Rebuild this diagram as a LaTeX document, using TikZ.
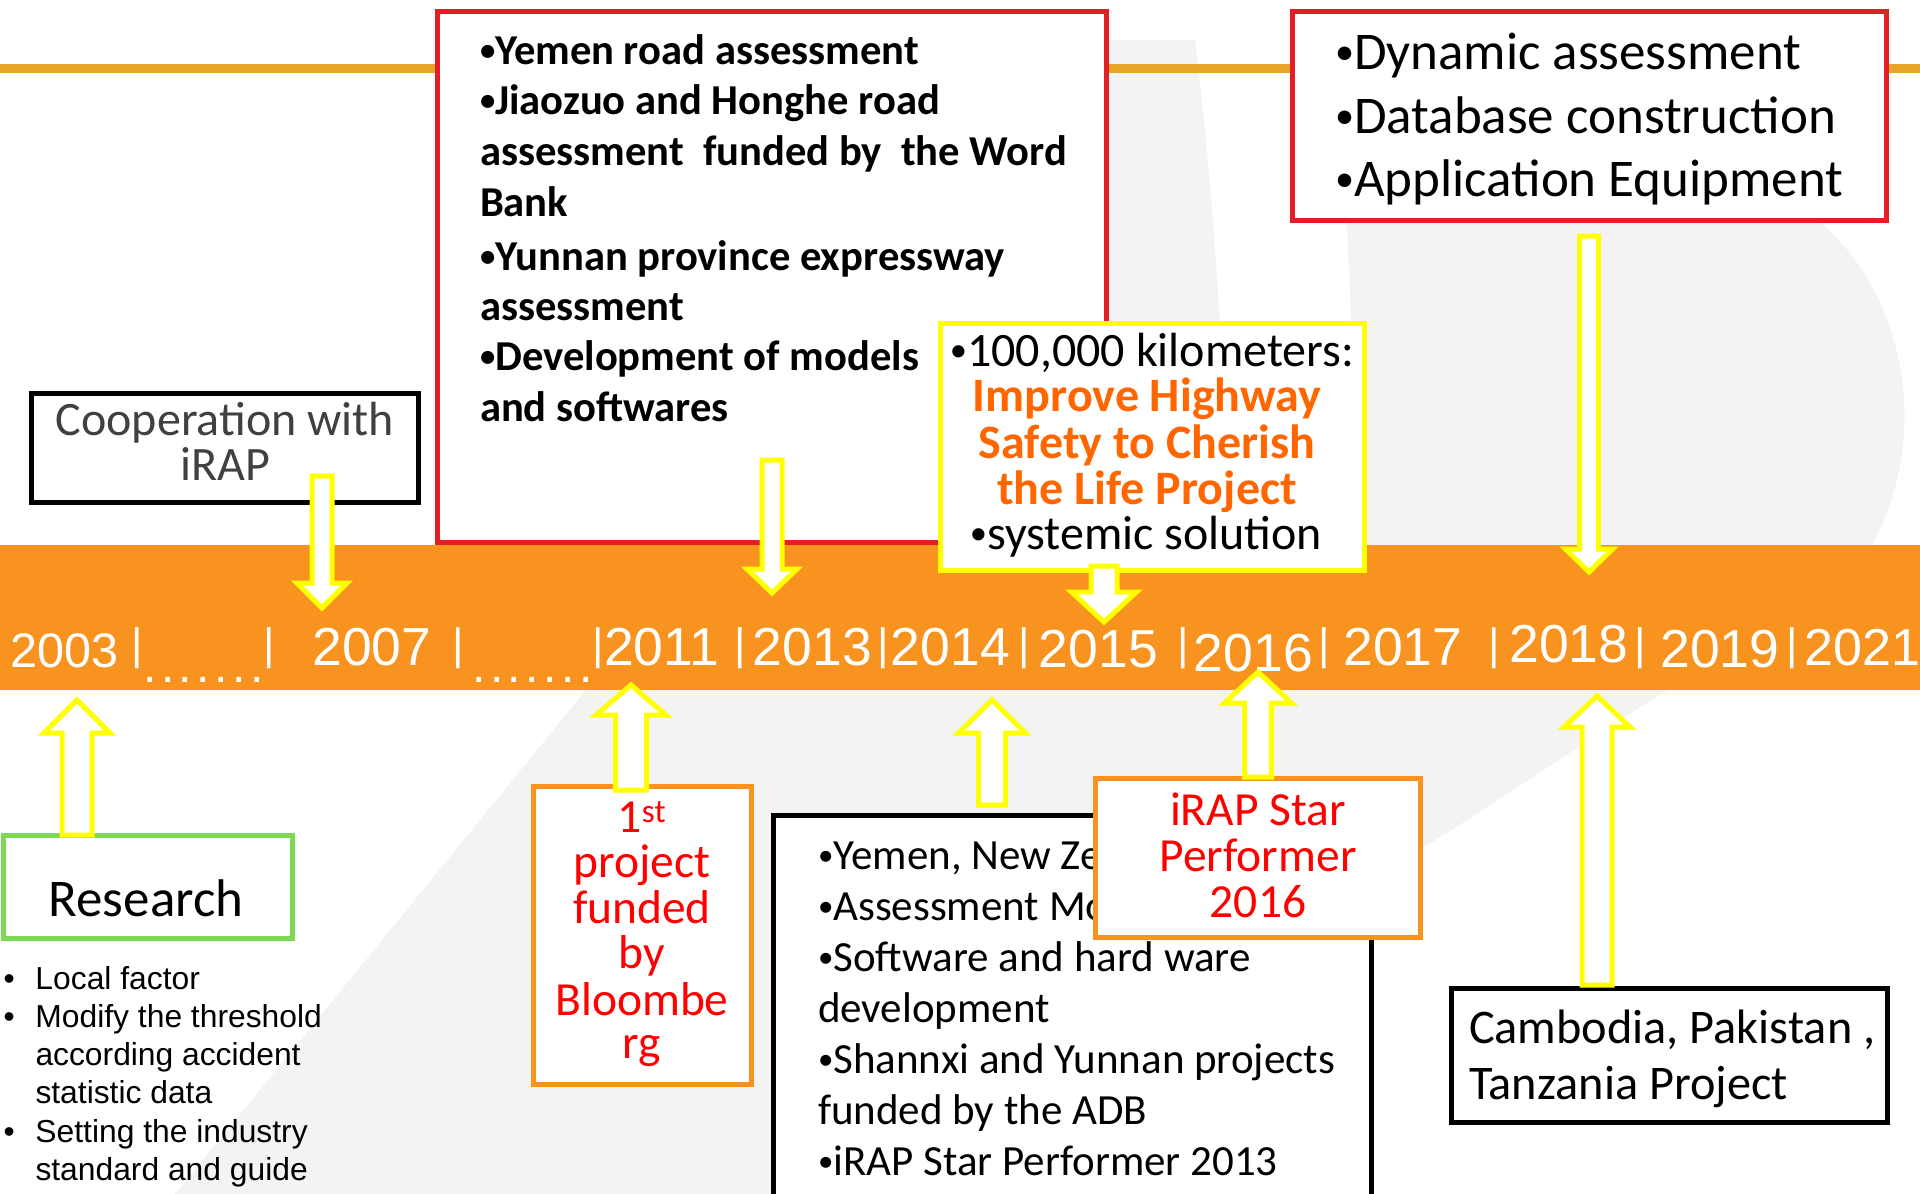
\documentclass[tikz,border=0pt]{standalone}
\usepackage{fontspec}
\usepackage{graphicx}
\setmainfont{Carlito}
\newfontfamily\arialfont{Liberation Sans}
\usetikzlibrary{calc}
\definecolor{bandorange}{HTML}{F7931E}
\definecolor{goldline}{HTML}{E6A528}
\definecolor{boxred}{HTML}{E31E24}
\definecolor{txtred}{HTML}{FF0000}
\definecolor{txtorange}{HTML}{FF6600}
\definecolor{boxgreen}{HTML}{7ED957}
\definecolor{yel}{HTML}{FFFF00}
\definecolor{bggray}{HTML}{F3F3F3}
\definecolor{coopgray}{HTML}{404040}
\newcommand{\fsz}[2]{\fontsize{#1}{#2}\selectfont}
\newcommand{\bul}{\raisebox{0.09em}{\scalebox{0.72}{•}}}
\newcommand{\yrat}[3]{\rlap{\kern#1pt\raisebox{#2pt}{#3}}}
\newcommand{\sepbar}{\fsz{44}{50}|}
\newcommand{\sevendots}{\fsz{48}{48}.\kern4.5pt.\kern4.5pt.\kern4.5pt.\kern4.5pt.\kern4.5pt.\kern4.5pt.}
\newcommand{\blockarrow}[5]{%
  \draw[yarrow] ($(#1)+(-#3,0)$) -- ($(#2)+(-#3,#5)$) -- ($(#2)+(-#4,#5)$) -- (#2)
     -- ($(#2)+(#4,#5)$) -- ($(#2)+(#3,#5)$) -- ($(#1)+(#3,0)$) -- cycle;}
\begin{document}
\begin{tikzpicture}[x=1pt,y=-1pt,
  yarrow/.style={draw=yel, fill=white, line width=5pt, line join=miter},
  boxw/.style={rectangle, inner sep=0pt, outer sep=0pt, fill=white},
  redbox/.style={boxw, draw=boxred, line width=5pt},
  blackbox/.style={boxw, draw=black, line width=5pt},
  yelbox/.style={boxw, draw=yel, line width=5pt},
  greenbox/.style={boxw, draw=boxgreen, line width=5pt},
  orbox/.style={boxw, draw=bandorange, line width=5pt},
  txtw/.style={inner sep=0pt, outer sep=0pt, anchor=base west},
  txtc/.style={inner sep=0pt, outer sep=0pt, anchor=base},
  rowtxt/.style={txtw, text=white, font=\arialfont\fsz{53.5}{56}},
  rbtxt/.style={txtw, font=\bfseries\fsz{42.6}{50}},
  ytxt/.style={txtc, font=\fsz{48}{48}},
  yotxt/.style={txtc, text=txtorange, font=\bfseries\fsz{48}{48}},
  r2txt/.style={txtw, font=\fsz{53}{60}},
  cooptxt/.style={txtc, text=coopgray, font=\fsz{48}{48}},
  listtxt/.style={txtw, font=\arialfont\fsz{31.8}{38}},
  redctxt/.style={txtc, text=txtred, font=\fsz{47.5}{47}},
  bbtxt/.style={txtw, font=\fsz{43}{51}},
  cambtxt/.style={txtw, font=\fsz{48.3}{56}}
]
\useasboundingbox (0,0) rectangle (1920,1194);
\clip (0,0) rectangle (1920,1194);
\fill[white] (0,0) rectangle (1920,1194);

% faint watermark
\fill[bggray] (1109,40) -- (1195,40) .. controls (1215,200) and (1225,400) .. (1232,545) -- (1109,545) -- cycle;
\fill[bggray] (1346,200) -- (1790,200) .. controls (1905,270) and (1935,430) .. (1872,545) -- (1361,545) .. controls (1355,400) and (1350,300) .. (1346,200) -- cycle;
\fill[bggray] (586,690) -- (1667,690) .. controls (1580,745) and (1500,800) .. (1424,847) -- (890,1194) -- (175,1194) -- cycle;

% top line and band
\draw[goldline, line width=9pt] (0,68) -- (1920,68);
\node[fill=bandorange, inner sep=0pt, outer sep=0pt, minimum width=1920pt, minimum height=145pt, anchor=north west] (band) at (0,545) {};

% year row (one line of text)
\node[rowtxt] (years) at (0,665) {%
  \yrat{9.9}{-2}{\fsz{48.5}{56}2003}%
  \yrat{131}{6}{\sepbar}%
  \yrat{142.8}{-17}{\sevendots}%
  \yrat{263.2}{6}{\sepbar}%
  \yrat{311.9}{-0.5}{2007}%
  \yrat{452.3}{6}{\sepbar}%
  \yrat{471.7}{-17}{\sevendots}%
  \yrat{592.2}{6}{\sepbar}%
  \yrat{603.6}{0}{2011}%
  \yrat{734.3}{6}{\sepbar}%
  \yrat{752.4}{0}{2013}%
  \yrat{877.3}{6}{\sepbar}%
  \yrat{890.4}{0}{2014}%
  \yrat{1018.3}{6}{\sepbar}%
  \yrat{1038.4}{-2}{2015}%
  \yrat{1177.3}{6}{\sepbar}%
  \yrat{1193.4}{-6}{2016}%
  \yrat{1318.3}{6}{\sepbar}%
  \yrat{1342.9}{-0.5}{2017}%
  \yrat{1488.3}{6}{\sepbar}%
  \yrat{1509}{2.5}{2018}%
  \yrat{1634.3}{6}{\sepbar}%
  \yrat{1660}{-2.5}{2019}%
  \yrat{1786.3}{6}{\sepbar}%
  \yrat{1804}{-0.5}{\fsz{52}{56}2021}%
};

% upper boxes
\node[redbox, minimum width=669pt, minimum height=530.5pt] (rb1) at (772,276.75) {};
\node[rbtxt] (r1a) at (480,64) {\bul Yemen road assessment};
\node[rbtxt] (r1b) at (480,114.5) {\bul Jiaozuo and Honghe road};
\node[rbtxt] (r1c) at (480,165) {assessment\ \ funded by\ \ the Word};
\node[rbtxt] (r1d) at (480,216) {Bank};
\node[rbtxt] (r1e) at (480,270) {\bul Yunnan province expressway};
\node[rbtxt] (r1f) at (480,320) {assessment};
\node[rbtxt] (r1g) at (480,370) {\bul Development of models};
\node[rbtxt] (r1h) at (480,421) {and softwares};

\node[blackbox, minimum width=387pt, minimum height=109pt] (coop) at (225,448) {};
\node[cooptxt] (coopa) at (225,435) {Cooperation with};
\node[cooptxt] (coopb) at (225,480) {iRAP};

\node[redbox, minimum width=594pt, minimum height=209pt] (rb2) at (1589.5,116) {};
\node[r2txt] (r2a) at (1335,69.5) {\bul Dynamic assessment};
\node[r2txt] (r2b) at (1335,133) {\bul Database construction};
\node[r2txt] (r2c) at (1335,196) {\bul Application Equipment};

\node[yelbox, minimum width=424pt, minimum height=247pt] (ybox) at (1152.5,447) {};
\node[ytxt] (ya) at (1152,366) {\bul 100,000 kilometers:};
\node[yotxt] (yb) at (1147,411) {Improve Highway};
\node[yotxt] (yc) at (1147,458) {Safety to Cherish};
\node[yotxt] (yd) at (1147,504) {the Life Project};
\node[ytxt] (ye) at (1146,549) {\bul systemic solution};

% lower boxes
\node[blackbox, line width=4.5pt, minimum width=598pt, minimum height=400pt, anchor=north] (bb) at (1072.5,815.5) {};
\node[bbtxt] (bba) at (818,869) {\bul Yemen, New Ze};
\node[bbtxt] (bbb) at (818,920) {\bul Assessment Mo};
\node[bbtxt] (bbc) at (818,971) {\bul Software and hard ware};
\node[bbtxt] (bbd) at (818,1022) {development};
\node[bbtxt] (bbe) at (818,1073) {\bul Shannxi and Yunnan projects};
\node[bbtxt] (bbf) at (818,1124) {funded by the ADB};
\node[bbtxt] (bbg) at (818,1175) {\bul iRAP Star Performer 2013};

\node[orbox, minimum width=325pt, minimum height=159pt] (star) at (1258,858) {};
\node[redctxt] (sta) at (1258,825) {iRAP Star};
\node[redctxt] (stb) at (1258,871) {Performer};
\node[redctxt] (stc) at (1258,917) {2016};

\node[greenbox, minimum width=289pt, minimum height=103pt] (res) at (148,887) {};
\node[txtc, font=\fsz{53}{53}] (rest) at (146,916) {Research};

\node[listtxt] (la) at (3.5,989) {\makebox[32pt][l]{•}Local factor};
\node[listtxt] (lb) at (3.5,1027) {\makebox[32pt][l]{•}Modify the threshold};
\node[listtxt] (lc) at (35.5,1065) {according accident};
\node[listtxt] (ld) at (35.5,1103) {statistic data};
\node[listtxt] (le) at (3.5,1142) {\makebox[32pt][l]{•}Setting the industry};
\node[listtxt] (lf) at (35.5,1180) {standard and guide};

\node[orbox, minimum width=218pt, minimum height=298pt] (fp) at (642.5,935.5) {};
\node[redctxt] (fpa) at (642,832) {1\textsuperscript{st}};
\node[redctxt] (fpb) at (642,877) {project};
\node[redctxt] (fpc) at (642,923) {funded};
\node[redctxt] (fpd) at (642,968) {by};
\node[redctxt] (fpe) at (642,1015) {Bloombe};
\node[redctxt] (fpf) at (642,1058) {rg};

\node[blackbox, line width=5.5pt, minimum width=436pt, minimum height=134pt] (camb) at (1669.5,1055.5) {};
\node[cambtxt] (cama) at (1469,1043) {Cambodia, Pakistan ,};
\node[cambtxt] (camb2) at (1469,1099) {Tanzania Project};

% block arrows
\coordinate (a1s) at (322,476);  \coordinate (a1t) at (322,608);
\coordinate (a2s) at (772,460);  \coordinate (a2t) at (772,593);
\coordinate (a3s) at (1104,566); \coordinate (a3t) at (1104,622);
\coordinate (a4s) at (1589,236); \coordinate (a4t) at (1589,572);
\coordinate (a5s) at (77,835);   \coordinate (a5t) at (77,700);
\coordinate (a6s) at (631,790);  \coordinate (a6t) at (631,685);
\coordinate (a7s) at (992,805);  \coordinate (a7t) at (992,700);
\coordinate (a8s) at (1258,777); \coordinate (a8t) at (1258,672);
\coordinate (a9s) at (1597,985); \coordinate (a9t) at (1597,696);
\blockarrow{a1s}{a1t}{10}{25}{-25}
\blockarrow{a2s}{a2t}{10}{25}{-24}
\blockarrow{a3s}{a3t}{13}{32.5}{-30}
\blockarrow{a4s}{a4t}{9.5}{23.5}{-23}
\blockarrow{a5s}{a5t}{15}{33}{33}
\blockarrow{a6s}{a6t}{15.5}{35}{30}
\blockarrow{a7s}{a7t}{13.5}{33.5}{33}
\blockarrow{a8s}{a8t}{13.5}{33.5}{31}
\blockarrow{a9s}{a9t}{15}{33}{31}
\end{tikzpicture}
\end{document}
